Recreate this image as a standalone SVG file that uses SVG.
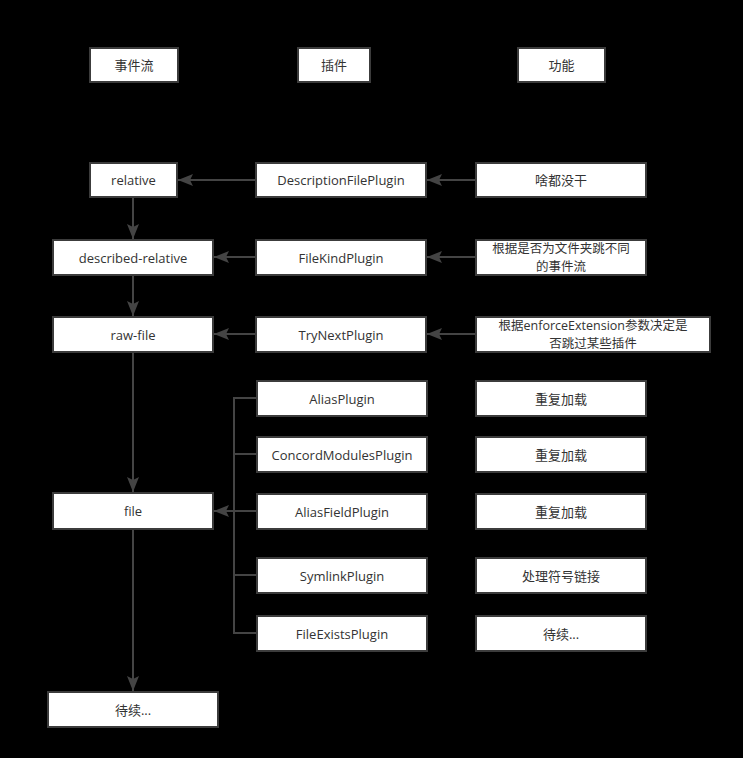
<svg xmlns="http://www.w3.org/2000/svg" width="743" height="758" viewBox="0 0 743 758">
<style>
.box{fill:#ffffff;stroke:#3c3c3c;stroke-width:2}
.t{font-family:"Open Sans","Noto Sans CJK SC",sans-serif;font-size:13px;fill:#333333;text-anchor:middle;dominant-baseline:central}
.t2{font-size:12.5px}
.ln{stroke:#444444;stroke-width:2;fill:none}
</style>
<defs>
<marker id="ah" markerUnits="userSpaceOnUse" markerWidth="16" markerHeight="14" refX="15" refY="7" orient="auto">
<path d="M0,1 L15,7 L0,13 L3,7 z" fill="#444444"/>
</marker>
</defs>
<rect x="0" y="0" width="743" height="758" fill="#000000"/>
<g id="connectors">
<line class="ln" x1="256" y1="180" x2="178" y2="180" marker-end="url(#ah)"/>
<line class="ln" x1="476" y1="180" x2="427" y2="180" marker-end="url(#ah)"/>
<line class="ln" x1="256" y1="257" x2="214" y2="257" marker-end="url(#ah)"/>
<line class="ln" x1="476" y1="257" x2="427" y2="257" marker-end="url(#ah)"/>
<line class="ln" x1="256" y1="334" x2="214" y2="334" marker-end="url(#ah)"/>
<line class="ln" x1="476" y1="334" x2="427" y2="334" marker-end="url(#ah)"/>
<line class="ln" x1="133" y1="197" x2="133" y2="239" marker-end="url(#ah)"/>
<line class="ln" x1="133" y1="275" x2="133" y2="316" marker-end="url(#ah)"/>
<line class="ln" x1="133" y1="352" x2="133" y2="492" marker-end="url(#ah)"/>
<line class="ln" x1="133" y1="529" x2="133" y2="691" marker-end="url(#ah)"/>
<path class="ln" d="M257,398 H234 V633 H257 M234,454 H257 M234,575 H257 M257,511 H234"/>
<line class="ln" x1="234" y1="511" x2="214" y2="511" marker-end="url(#ah)"/>
</g>
<g id="h-events"><rect class="box" x="90" y="48" width="88" height="34"/><text class="t" x="134" y="65">事件流</text></g>
<g id="h-plugins"><rect class="box" x="298" y="48" width="72" height="34"/><text class="t" x="334" y="65">插件</text></g>
<g id="h-function"><rect class="box" x="518" y="48" width="87" height="34"/><text class="t" x="561.5" y="65">功能</text></g>
<g id="n-relative"><rect class="box" x="90" y="163" width="87" height="34"/><text class="t" x="133.5" y="180">relative</text></g>
<g id="n-described-relative"><rect class="box" x="53" y="240" width="160" height="35"/><text class="t" x="133" y="257.5">described-relative</text></g>
<g id="n-raw-file"><rect class="box" x="53" y="317" width="160" height="35"/><text class="t" x="133" y="334.5">raw-file</text></g>
<g id="n-file"><rect class="box" x="53" y="493" width="160" height="36"/><text class="t" x="133" y="511">file</text></g>
<g id="n-tbc"><rect class="box" x="48" y="692" width="170" height="35"/><text class="t" x="133" y="709.5">待续...</text></g>
<g id="p-description"><rect class="box" x="256" y="163" width="170" height="34"/><text class="t" x="341" y="180">DescriptionFilePlugin</text></g>
<g id="p-filekind"><rect class="box" x="256" y="240" width="170" height="35"/><text class="t" x="341" y="257.5">FileKindPlugin</text></g>
<g id="p-trynext"><rect class="box" x="256" y="317" width="170" height="35"/><text class="t" x="341" y="334.5">TryNextPlugin</text></g>
<g id="p-alias"><rect class="box" x="257" y="381" width="170" height="35"/><text class="t" x="342" y="398.5">AliasPlugin</text></g>
<g id="p-concord"><rect class="box" x="257" y="437" width="170" height="35"/><text class="t" x="342" y="454.5">ConcordModulesPlugin</text></g>
<g id="p-aliasfield"><rect class="box" x="257" y="494" width="170" height="35"/><text class="t" x="342" y="511.5">AliasFieldPlugin</text></g>
<g id="p-symlink"><rect class="box" x="257" y="558" width="170" height="35"/><text class="t" x="342" y="575.5">SymlinkPlugin</text></g>
<g id="p-fileexists"><rect class="box" x="257" y="616" width="170" height="35"/><text class="t" x="342" y="633.5">FileExistsPlugin</text></g>
<g id="f-nothing"><rect class="box" x="476" y="163" width="170" height="34"/><text class="t" x="561" y="180">啥都没干</text></g>
<g id="f-filekind"><rect class="box" x="476" y="240" width="170" height="35"/><text class="t t2" x="561" y="248.5">根据是否为文件夹跳不同</text><text class="t t2" x="561" y="266.5">的事件流</text></g>
<g id="f-trynext"><rect class="box" x="476" y="317" width="234" height="35"/><text class="t t2" x="593" y="325.5">根据enforceExtension参数决定是</text><text class="t t2" x="593" y="343.5">否跳过某些插件</text></g>
<g id="f-alias"><rect class="box" x="476" y="381" width="170" height="35"/><text class="t" x="561" y="398.5">重复加载</text></g>
<g id="f-concord"><rect class="box" x="476" y="437" width="170" height="35"/><text class="t" x="561" y="454.5">重复加载</text></g>
<g id="f-aliasfield"><rect class="box" x="476" y="494" width="170" height="35"/><text class="t" x="561" y="511.5">重复加载</text></g>
<g id="f-symlink"><rect class="box" x="476" y="558" width="170" height="35"/><text class="t" x="561" y="575.5">处理符号链接</text></g>
<g id="f-fileexists"><rect class="box" x="476" y="616" width="170" height="35"/><text class="t" x="561" y="633.5">待续...</text></g>
</svg>
